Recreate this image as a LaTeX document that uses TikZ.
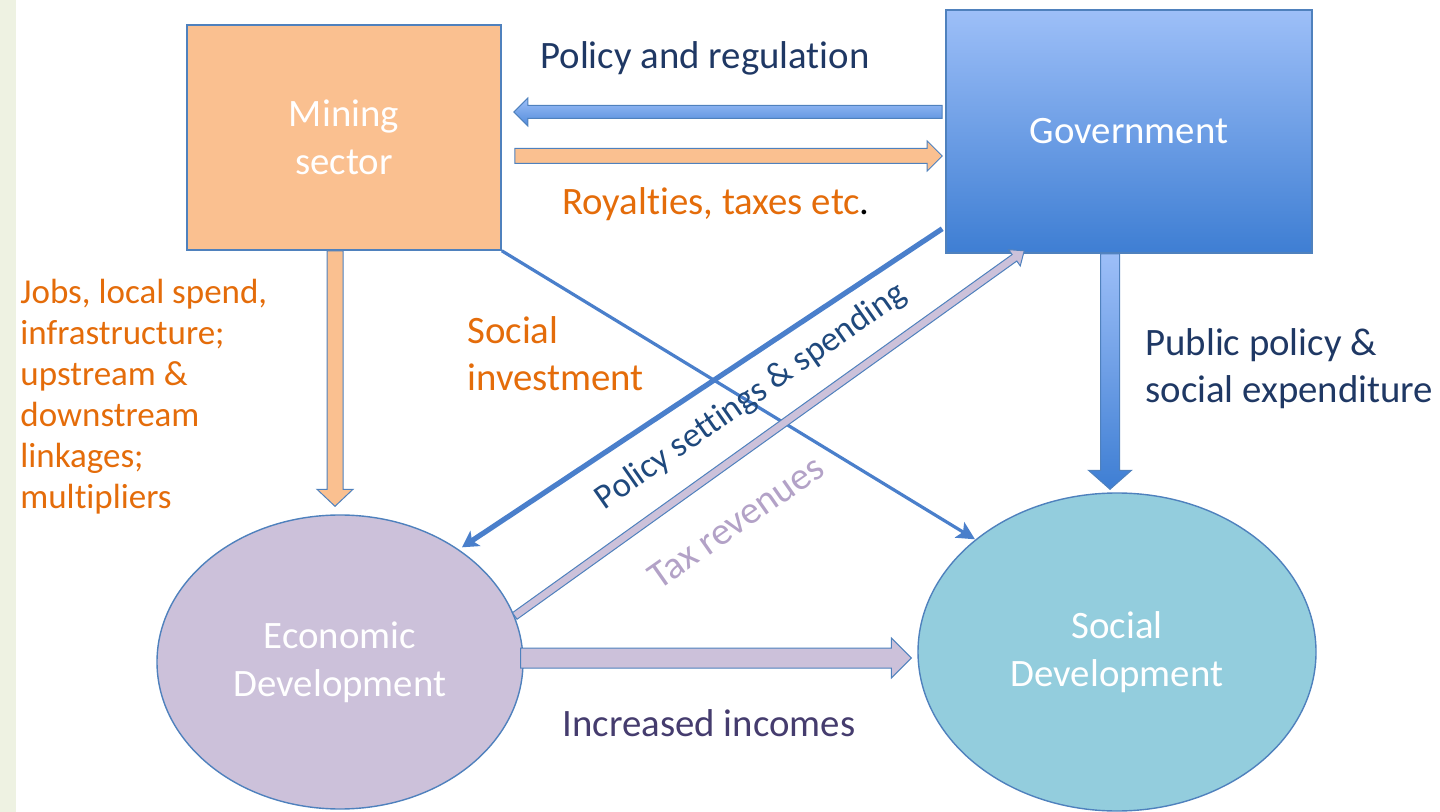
\documentclass[tikz,border=0pt]{standalone}
\usepackage{fontspec}
\setmainfont{Carlito}[Ligatures=NoCommon]
\usetikzlibrary{calc,arrows.meta,shapes.geometric}
\definecolor{stripgreen}{HTML}{EEF2E2}
\definecolor{orangefill}{HTML}{FAC090}
\definecolor{edgeblue}{HTML}{4F81BD}
\definecolor{govtop}{HTML}{9DBFF8}
\definecolor{govbot}{HTML}{3E7ED3}
\definecolor{econfill}{HTML}{CCC1DA}
\definecolor{socfill}{HTML}{93CDDD}
\definecolor{orangetxt}{HTML}{E46C0A}
\definecolor{navytxt}{HTML}{1F3864}
\definecolor{poltxt}{HTML}{1F497D}
\definecolor{taxtxt}{HTML}{B3A2C7}
\definecolor{inctxt}{HTML}{453C6E}
\definecolor{linkblue}{HTML}{4A7FCB}
\newcommand\blockarr[6]{%
  \coordinate (ba-h) at ($(#2)!#5!(#1)$);
  \path[#6] ($(#1)!#3!90:(#2)$) -- ($(ba-h)!#3!90:(#2)$) -- ($(ba-h)!#4!90:(#2)$) -- (#2)
    -- ($(ba-h)!#4!-90:(#2)$) -- ($(ba-h)!#3!-90:(#2)$) -- ($(#1)!#3!-90:(#2)$) -- cycle;
}
\tikzset{
  lbl/.style={font=\fontsize{19.4pt}{23.5pt}\selectfont, inner sep=0pt},
  boxnode/.style={draw=edgeblue, line width=0.8pt, inner sep=0pt, text=white, align=center,
    font=\fontsize{19.4pt}{24pt}\selectfont},
  ellnode/.style={ellipse, draw=edgeblue, line width=0.7pt, inner sep=0pt, text=white, align=center,
    font=\fontsize{19.4pt}{24pt}\selectfont},
  barrow/.style={draw=edgeblue, line width=0.5pt},
  link/.style={draw=linkblue},
}
\begin{document}
\begin{tikzpicture}[x=0.5pt,y=-0.5pt]
\useasboundingbox (0,0) rectangle (1440,812);
\fill[stripgreen] (0,0) rectangle (16,812);

% main shapes
\node[boxnode, fill=orangefill, minimum width=157pt, minimum height=112.5pt] (mining) at (344,137.5) {Mining\\sector};
\node[boxnode, top color=govtop, bottom color=govbot, minimum width=183pt, minimum height=121.5pt] (gov) at (1129,131.5) {Government};
\node[ellnode, fill=econfill, minimum width=183pt, minimum height=147pt] (econ) at (340,662) {Economic\\Development};
\node[ellnode, fill=socfill, minimum width=199pt, minimum height=159pt] (soc) at (1117,652) {Social\\Development};

% connector end points
\coordinate (prS) at ($(gov.west)+(-3,-19.5)$);
\coordinate (prE) at ($(mining.east)+(12,-25.5)$);
\coordinate (rtS) at ($(mining.east)+(13,18.5)$);
\coordinate (rtE) at ($(gov.west)+(-3,24.5)$);
\coordinate (meS) at ($(mining.south)+(-9,0)$);
\coordinate (meE) at ($(econ.north)+(-5,-8)$);
\coordinate (gsS) at ($(gov.south)+(-19,0)$);
\coordinate (gsE) at ($(soc.north)+(-7,-3)$);
\coordinate (esS) at ($(econ.east)+(-3,-4)$);
\coordinate (esE) at ($(soc.west)+(-6,6)$);
\coordinate (txS) at ($(econ.east)+(-9,-46)$);
\coordinate (txE) at ($(gov.south west)+(79,-3)$);
\coordinate (psS) at ($(gov.south west)+(-3,-25)$);
\coordinate (psE) at ($(econ.north)+(122,33)$);
\coordinate (siE) at ($(soc.north)+(-142,47)$);

% block arrows
\blockarr{prS}{prE}{3.25pt}{7pt}{7pt}{barrow, top color=govtop, bottom color=govbot!80!govtop}
\blockarr{rtS}{rtE}{3.75pt}{7.5pt}{7.5pt}{barrow, fill=orangefill}
\blockarr{meS}{meE}{4pt}{9pt}{8.5pt}{barrow, fill=orangefill}
\blockarr{gsS}{gsE}{4.75pt}{10.75pt}{9.5pt}{barrow, top color=govtop, bottom color=govbot}
\blockarr{esS}{esE}{5pt}{10pt}{10pt}{barrow, fill=econfill}

% thin connectors
\draw[link, line width=1.6pt, -{Stealth[length=9pt,width=9pt,inset=2pt]}] (mining.south east) -- (siE);
\draw[link, line width=2.6pt, -{Stealth[length=8pt,width=9pt,inset=2pt]}] (psS) -- (psE);
\blockarr{txS}{txE}{2pt}{5pt}{6pt}{barrow, fill=econfill}

% labels
\node[lbl, text=navytxt] (lpr) at (705,58) {Policy and regulation};
\node[lbl, text=orangetxt] (lrt) at (716,204) {Royalties, taxes etc\textcolor{black}{.}};
\node[lbl, text=orangetxt, align=left, anchor=west, font=\fontsize{17.5pt}{20.5pt}\selectfont] (ljobs) at (20,397)
  {Jobs, local spend,\\infrastructure;\\upstream \&\\downstream\\linkages;\\multipliers};
\node[lbl, text=orangetxt, align=left, anchor=west] (lsi) at (467,354) {Social\\investment};
\node[lbl, text=navytxt, align=left, anchor=west] (lpp) at (1145,369) {Public policy \&\\social expenditure};
\node[lbl, text=poltxt, rotate=35, font=\fontsize{17.5pt}{20pt}\selectfont] (lps) at (751,397) {Policy settings \& spending};
\node[lbl, text=taxtxt, rotate=35] (ltx) at (736,522) {Tax revenues};
\node[lbl, text=inctxt] (linc) at (709,723) {Increased incomes};
\end{tikzpicture}
\end{document}
